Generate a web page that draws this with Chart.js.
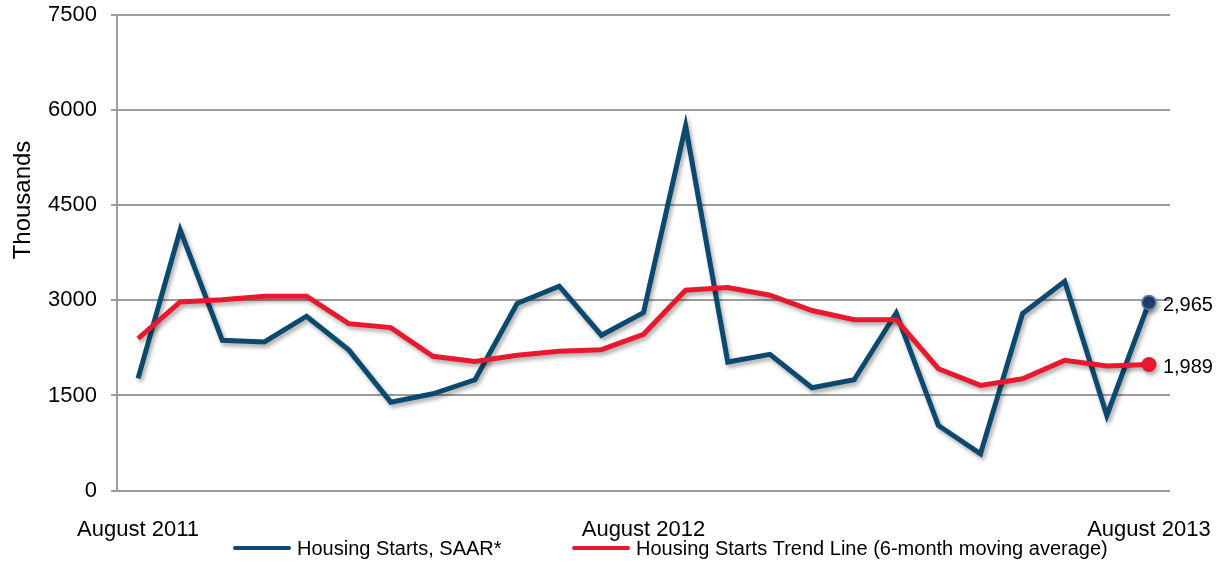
<!DOCTYPE html>
<html>
<head>
<meta charset="utf-8">
<script src="https://cdn.jsdelivr.net/npm/chart.js@4/dist/chart.umd.min.js"></script>
<style>
  html, body { margin: 0; padding: 0; background: #ffffff; }
  #wrap { width: 1231px; height: 571px; position: relative; }
</style>
</head>
<body>
<div id="wrap"><canvas id="c" width="1231" height="571"></canvas></div>
<script>
// ---- Data ----
const categories = [
  'August 2011','September 2011','October 2011','November 2011','December 2011',
  'January 2012','February 2012','March 2012','April 2012','May 2012','June 2012','July 2012',
  'August 2012','September 2012','October 2012','November 2012','December 2012',
  'January 2013','February 2013','March 2013','April 2013','May 2013','June 2013','July 2013',
  'August 2013'
];
const shownTickLabels = ['August 2011', 'August 2012', 'August 2013'];
const housingStarts = [1770, 4110, 2370, 2345, 2750, 2220, 1395, 1527, 1748, 2950, 3223, 2450,
  2807, 5750, 2027, 2148, 1622, 1748, 2801, 1027, 580, 2791, 3300, 1185, 2965];
const trendLine = [2396, 2975, 3010, 3065, 3065, 2633, 2570, 2117, 2038, 2133, 2196, 2222,
  2464, 3160, 3202, 3081, 2840, 2696, 2696, 1922, 1659, 1764, 2054, 1965, 1989];
const yTicks = [0, 1500, 3000, 4500, 6000, 7500];
const seriesNames = ['Housing Starts, SAAR*', 'Housing Starts Trend Line (6-month moving average)'];
const yAxisTitle = 'Thousands';

const BLUE = '#0b4a6e';
const RED = '#e8192e';
const FONT = "'Liberation Sans', Arial, sans-serif";
const lastIdx = categories.length - 1;

const shadowPlugin = {
  id: 'lineShadow',
  beforeDatasetDraw(chart) {
    const ctx = chart.ctx;
    ctx.save();
    ctx.shadowColor = 'rgba(0,0,0,0.35)';
    ctx.shadowBlur = 4;
    ctx.shadowOffsetX = 2;
    ctx.shadowOffsetY = 3;
  },
  afterDatasetDraw(chart) {
    chart.ctx.restore();
  }
};

const extrasPlugin = {
  id: 'extras',
  afterDraw(chart) {
    const ctx = chart.ctx;
    ctx.save();
    // end-point value labels
    ctx.font = '20px ' + FONT;
    ctx.fillStyle = '#000';
    ctx.textAlign = 'left';
    ctx.textBaseline = 'middle';
    chart.data.datasets.forEach((ds, i) => {
      const pt = chart.getDatasetMeta(i).data[lastIdx];
      ctx.fillText(ds.data[lastIdx].toLocaleString('en-US'), pt.x + 14, pt.y + 3);
    });
    // y-axis title
    ctx.save();
    ctx.font = '24px ' + FONT;
    ctx.translate(23, 200);
    ctx.rotate(-Math.PI / 2);
    ctx.textAlign = 'center';
    ctx.textBaseline = 'middle';
    ctx.fillText(yAxisTitle, 0, 0);
    ctx.restore();
    // legend
    ctx.font = '20px ' + FONT;
    const items = [
      { x: 233, color: BLUE, text: seriesNames[0] },
      { x: 572, color: RED, text: seriesNames[1] }
    ];
    const ly = 548;
    items.forEach(it => {
      ctx.strokeStyle = it.color;
      ctx.lineWidth = 4;
      ctx.lineCap = 'round';
      ctx.beginPath();
      ctx.moveTo(it.x + 2, ly);
      ctx.lineTo(it.x + 56, ly);
      ctx.stroke();
      ctx.fillStyle = '#000';
      ctx.textAlign = 'left';
      ctx.fillText(it.text, it.x + 64, ly + 1);
    });
    ctx.restore();
  }
};

new Chart(document.getElementById('c'), {
  type: 'line',
  data: {
    labels: categories,
    datasets: [
      {
        label: seriesNames[0],
        data: housingStarts,
        borderColor: BLUE,
        backgroundColor: '#243f66',
        borderWidth: 5,
        tension: 0,
        pointRadius: (c) => c.dataIndex === lastIdx ? 7 : 0,
        pointBorderColor: '#4f81bd',
        pointBackgroundColor: '#243f66',
        pointBorderWidth: 1.5,
        fill: false,
        order: 1
      },
      {
        label: seriesNames[1],
        data: trendLine,
        borderColor: RED,
        backgroundColor: RED,
        borderWidth: 5,
        tension: 0,
        pointRadius: (c) => c.dataIndex === lastIdx ? 7.5 : 0,
        pointBorderColor: RED,
        pointBackgroundColor: RED,
        pointBorderWidth: 0,
        fill: false,
        order: 0
      }
    ]
  },
  options: {
    responsive: false,
    animation: false,
    devicePixelRatio: 1,
    layout: { padding: { top: 15, right: 61, bottom: 2, left: 0 } },
    plugins: {
      legend: { display: false },
      tooltip: { enabled: false },
      title: { display: false }
    },
    scales: {
      x: {
        type: 'category',
        offset: true,
        grid: { display: false, drawTicks: false },
        border: { display: false },
        afterFit: (scale) => { scale.paddingLeft = 0; scale.paddingRight = 0; },
        ticks: {
          autoSkip: false,
          maxRotation: 0,
          minRotation: 0,
          padding: 26,
          color: '#000',
          font: { family: FONT, size: 22 },
          callback: function (v, i) {
            const lab = categories[i];
            return shownTickLabels.includes(lab) ? lab : '';
          }
        }
      },
      y: {
        min: 0,
        max: 7500,
        afterBuildTicks: (scale) => { scale.ticks = yTicks.map(v => ({ value: v })); },
        afterFit: (scale) => { scale.width = 117; scale.paddingTop = 0; scale.paddingBottom = 0; },
        grid: { color: '#9c9c9c', lineWidth: 2, tickLength: 6, drawTicks: true },
        border: { display: true, color: '#9c9c9c', width: 2 },
        ticks: {
          padding: 14,
          color: '#000',
          font: { family: FONT, size: 22 },
          callback: (v) => String(v)
        }
      }
    }
  },
  plugins: [shadowPlugin, extrasPlugin]
});
</script>
</body>
</html>
